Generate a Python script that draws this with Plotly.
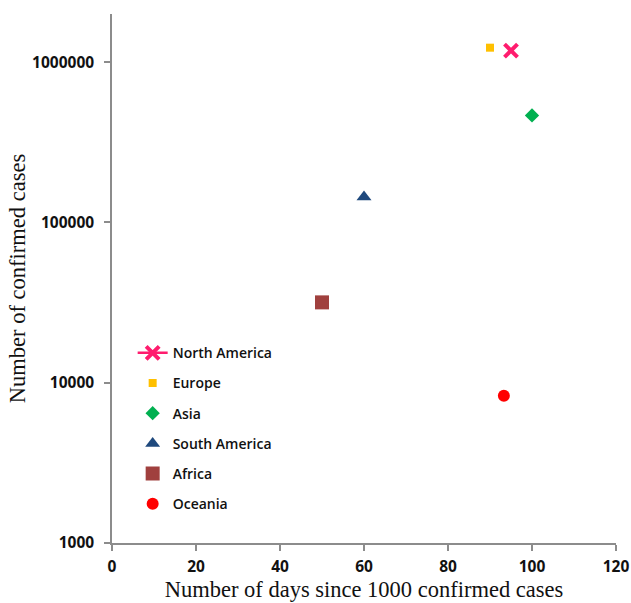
import plotly.graph_objects as go

regions = ["North America", "Europe", "Asia", "South America", "Africa", "Oceania"]
days = [95, 90, 100, 60, 50, 93.3]
cases = [1180000, 1230000, 465000, 144000, 31700, 8300]
colors = ["#FF1C6E", "#FFC000", "#00B050", "#1F497D", "#A0403E", "#FF0000"]
symbols = ["x-thin", "square", "diamond", "triangle-up", "square", "circle"]
sizes = [13, 8, 11, 13, 14, 12]

xticks = [0, 20, 40, 60, 80, 100, 120]
yticks = [1000, 10000, 100000, 1000000]

fig = go.Figure()
for i, name in enumerate(regions):
    if symbols[i] == "x-thin":
        marker = dict(symbol="x-thin", size=sizes[i], color=colors[i],
                      line=dict(color=colors[i], width=4))
        mode = "lines+markers"
    else:
        marker = dict(symbol=symbols[i], size=sizes[i], color=colors[i])
        mode = "markers"
    fig.add_trace(go.Scatter(
        x=[days[i]], y=[cases[i]], name=name, mode=mode,
        marker=marker, line=dict(color=colors[i], width=2.5),
        legendgroup=name,
    ))

axis_color = "#8C8C8C"
fig.update_layout(
    width=631, height=603,
    margin=dict(l=112, r=15, t=14, b=60),
    paper_bgcolor="white", plot_bgcolor="white",
    showlegend=True,
    legend=dict(
        x=0.041, y=0.389, xanchor="left", yanchor="top",
        font=dict(family="Open Sans", size=14, color="#111111", weight=600),
        tracegroupgap=9, itemsizing="trace", bgcolor="rgba(0,0,0,0)",
        traceorder="grouped",
    ),
    xaxis=dict(
        range=[0, 120], tickvals=xticks, ticktext=[str(v) for v in xticks],
        showgrid=False, zeroline=False, showline=True, linecolor=axis_color, linewidth=1.5,
        ticks="outside", ticklen=6, tickcolor=axis_color, tickwidth=1.5, automargin=False,
        ticklabelstandoff=3,
        tickfont=dict(family="Open Sans", size=15.5, color="#111111", weight=700),
        title=dict(text="Number of days since 1000 confirmed cases",
                   font=dict(family="Liberation Serif", size=22.5, color="#111111"), standoff=2),
    ),
    yaxis=dict(
        type="log", range=[3, 6.3], tickvals=yticks, ticktext=[str(v) for v in yticks],
        showgrid=False, zeroline=False, showline=True, linecolor=axis_color, linewidth=1.5,
        ticks="outside", ticklen=6, tickcolor=axis_color, tickwidth=1.5, automargin=False,
        ticklabelstandoff=7,
        tickfont=dict(family="Open Sans", size=15.5, color="#111111", weight=700),
        title=dict(text="Number of confirmed cases",
                   font=dict(family="Liberation Serif", size=22.5, color="#111111"), standoff=0),
    ),
)

fig.write_html("out.html", config={"displayModeBar": False},
               post_script="document.body.style.margin='0';document.body.style.padding='0';")
